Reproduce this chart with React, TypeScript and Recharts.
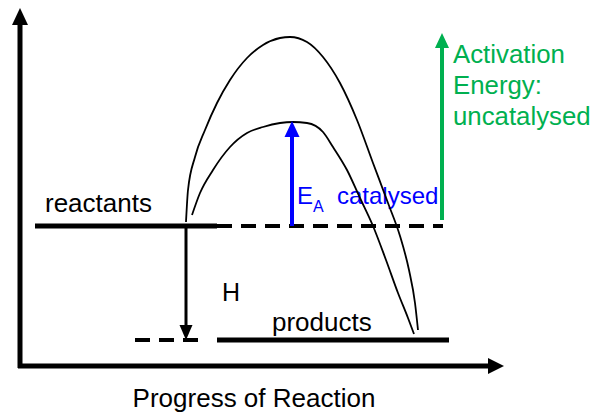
import { ComposedChart, Line, Scatter, ReferenceLine, XAxis, YAxis } from 'recharts';

// progress (p) and energy (E) units; energy 0 sits on the progress axis
const uncatalysedCurve = [
    { p: 166, E: 144 }, { p: 168, E: 176 }, { p: 175, E: 209 }, { p: 185, E: 236 },
    { p: 197, E: 263 }, { p: 210, E: 286 }, { p: 227, E: 308 }, { p: 243, E: 321 },
    { p: 260, E: 328 }, { p: 270, E: 329 }, { p: 287, E: 324 }, { p: 303, E: 309 },
    { p: 320, E: 283 }, { p: 337, E: 246 }, { p: 353, E: 203 }, { p: 368, E: 163 },
    { p: 380, E: 130 }, { p: 389, E: 96 }, { p: 395, E: 63 }, { p: 398, E: 36 }
];

const catalysedCurve = [
    { p: 172, E: 151 }, { p: 180, E: 173 }, { p: 193, E: 196 }, { p: 210, E: 219 },
    { p: 227, E: 233 }, { p: 243, E: 239 }, { p: 260, E: 243 }, { p: 273, E: 244 },
    { p: 287, E: 243 }, { p: 303, E: 234 }, { p: 313, E: 219 }, { p: 327, E: 196 },
    { p: 340, E: 168 }, { p: 353, E: 140 }, { p: 366, E: 106 }, { p: 378, E: 73 },
    { p: 388, E: 48 }, { p: 394, E: 32 }
];

const REACTANTS_E = 140;
const PRODUCTS_E = 26;

const levels = [
    { name: 'reactants', from: 15, to: 197, E: REACTANTS_E, dashed: false },
    { name: 'reactants-ext', from: 197, to: 423, E: REACTANTS_E, dashed: true },
    { name: 'products-ext', from: 115, to: 187, E: PRODUCTS_E, dashed: true },
    { name: 'products', from: 197, to: 429, E: PRODUCTS_E, dashed: false }
];

const arrows = [
    { name: 'energyAxis', from: { p: 0, E: -2 }, to: { p: 0, E: 358 }, color: '#000000', width: 5, len: 17, half: 8 },
    { name: 'progressAxis', from: { p: -2, E: 0 }, to: { p: 484, E: 0 }, color: '#000000', width: 5, len: 16, half: 8 },
    { name: 'catalysed', from: { p: 272, E: REACTANTS_E }, to: { p: 272, E: 245 }, color: '#0000ff', width: 4, len: 16, half: 7.5 },
    { name: 'uncatalysed', from: { p: 422, E: 146 }, to: { p: 422, E: 333 }, color: '#00b050', width: 4, len: 15, half: 7 },
    { name: 'enthalpy', from: { p: 166, E: REACTANTS_E }, to: { p: 166, E: PRODUCTS_E }, color: '#000000', width: 3, len: 15, half: 6.5 }
];

const FONT = '"Liberation Sans", Arial, sans-serif';

function Head(props: any) {
    const { cx, cy, payload } = props;
    const { dx, dy, len, half, color } = payload;
    // dx/dy is the pointing direction in screen space
    const bx = cx - dx * len;
    const by = cy - dy * len;
    const nx = -dy * half;
    const ny = dx * half;
    const pts = `${cx},${cy} ${bx + nx},${by + ny} ${bx - nx},${by - ny}`;
    return <polygon points={pts} fill={color} />;
}

export default function App() {
    const heads = arrows.map((a) => {
        const ddx = Math.sign(a.to.p - a.from.p);
        const ddE = Math.sign(a.to.E - a.from.E);
        return { p: a.to.p, E: a.to.E, dx: ddx, dy: -ddE, len: a.len, half: a.half, color: a.color };
    });

    return (
        <div style={{ position: 'absolute', left: 0, top: 0, background: '#fff' }}>
            <ComposedChart width={604} height={412} margin={{ top: 0, right: 0, bottom: 0, left: 0 }}>
                <XAxis type="number" dataKey="p" domain={[-20, 584]} allowDataOverflow hide />
                <YAxis type="number" dataKey="E" domain={[-46, 366]} allowDataOverflow hide />

                {levels.map((l) => (
                    <ReferenceLine
                        key={l.name}
                        segment={[{ x: l.from, y: l.E }, { x: l.to, y: l.E }]}
                        stroke="#000"
                        strokeWidth={l.dashed ? 4 : 5}
                        strokeDasharray={l.dashed ? '15 9' : undefined}
                        ifOverflow="visible"
                    />
                ))}

                {arrows.map((a) => {
                    const sp = Math.sign(a.to.p - a.from.p);
                    const sE = Math.sign(a.to.E - a.from.E);
                    return (
                        <ReferenceLine
                            key={a.name}
                            segment={[
                                { x: a.from.p, y: a.from.E },
                                { x: a.to.p - sp * (a.len - 2), y: a.to.E - sE * (a.len - 2) }
                            ]}
                            stroke={a.color}
                            strokeWidth={a.width}
                            ifOverflow="visible"
                        />
                    );
                })}

                <Line
                    data={uncatalysedCurve}
                    dataKey="E"
                    type="monotone"
                    stroke="#000"
                    strokeWidth={1.8}
                    dot={false}
                    activeDot={false}
                    isAnimationActive={false}
                />
                <Line
                    data={catalysedCurve}
                    dataKey="E"
                    type="monotone"
                    stroke="#000"
                    strokeWidth={1.8}
                    dot={false}
                    activeDot={false}
                    isAnimationActive={false}
                />

                <Scatter data={heads} dataKey="E" shape={Head} isAnimationActive={false} />

                <text x={45} y={212} fontFamily={FONT} fontSize={26} fill="#000">reactants</text>
                <text x={222} y={301} fontFamily={FONT} fontSize={25} fill="#000">H</text>
                <text x={272} y={331} fontFamily={FONT} fontSize={26} fill="#000">products</text>
                <text x={297} y={204} fontFamily={FONT} fontSize={24} fill="#0000ff">
                    E<tspan fontSize={16} dy={8}>A</tspan>
                </text>
                <text x={337} y={204} fontFamily={FONT} fontSize={24} fill="#0000ff">catalysed</text>
                <text x={453} y={63} fontFamily={FONT} fontSize={25.8} fill="#00b050">Activation</text>
                <text x={453} y={94} fontFamily={FONT} fontSize={25.8} fill="#00b050">Energy:</text>
                <text x={453} y={125} fontFamily={FONT} fontSize={25.8} fill="#00b050">uncatalysed</text>
                <text x={254} y={407} textAnchor="middle" fontFamily={FONT} fontSize={26} fill="#000">
                    Progress of Reaction
                </text>
            </ComposedChart>
        </div>
    );
}
